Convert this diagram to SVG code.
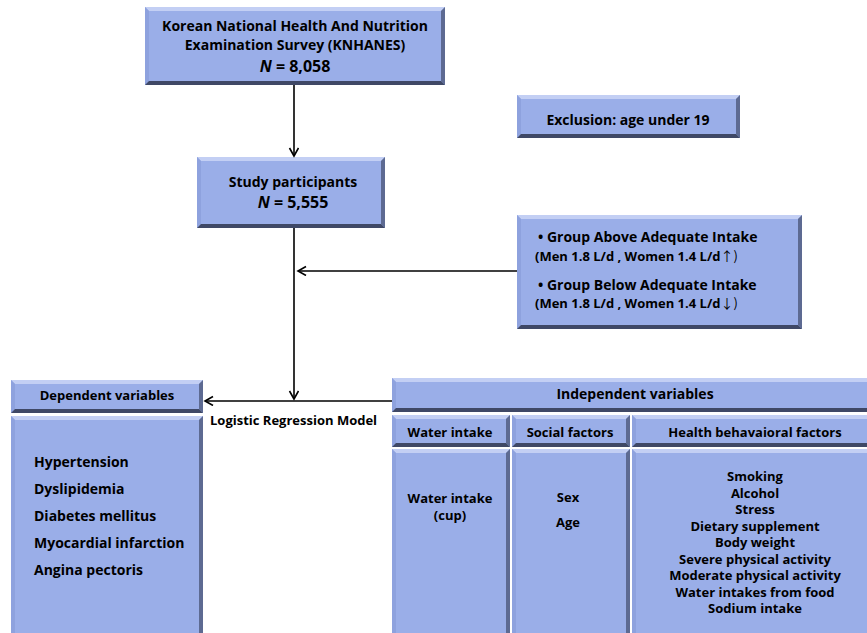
<svg xmlns="http://www.w3.org/2000/svg" width="867" height="633" viewBox="0 0 867 633">
<defs>
<marker id="arr" markerWidth="12" markerHeight="12" refX="9" refY="5" orient="auto" markerUnits="userSpaceOnUse">
<path d="M1,0.5 L9,5 L1,9.5" fill="none" stroke="#000" stroke-width="1.6"/>
</marker>
</defs>
<style>
.m{fill:#9aaee8}
.t{fill:#c3cff4}
.l{fill:#8ea2de}
.r{fill:#5d6a92}
.b{fill:#3f4866}
text{font-family:"Open Sans","Noto Sans","Liberation Sans",sans-serif;font-weight:bold;font-size:14px;fill:#000}
.c{text-anchor:middle}
.n{font-style:italic}
.k{font-family:"Noto Sans CJK KR","Noto Sans CJK SC",sans-serif;font-weight:normal}
.ln{stroke:#000;stroke-width:1.6;fill:none}
</style>
<rect width="867" height="633" fill="#fff"/>

<g id="knhanes">
<rect class="m" x="145" y="7" width="300" height="78"/>
<polygon class="t" points="145,7 445,7 441,11 149,11"/>
<polygon class="l" points="145,7 149,11 149,81 145,85"/>
<polygon class="r" points="445,7 445,85 441,81 441,11"/>
<polygon class="b" points="145,85 445,85 441,81 149,81"/>
<text class="c" x="295" y="31">Korean National Health And Nutrition</text>
<text class="c" x="295" y="50">Examination Survey (KNHANES)</text>
<text class="c" x="295" y="72" style="font-size:16px"><tspan class="n">N</tspan> =  8,058</text>
</g>

<g id="participants">
<rect class="m" x="197" y="157" width="188" height="71"/>
<polygon class="t" points="197,157 385,157 381,161 201,161"/>
<polygon class="l" points="197,157 201,161 201,224 197,228"/>
<polygon class="r" points="385,157 385,228 381,224 381,161"/>
<polygon class="b" points="197,228 385,228 381,224 201,224"/>
<text class="c" x="293" y="187">Study participants</text>
<text class="c" x="293" y="208" style="font-size:16px"><tspan class="n">N</tspan> =  5,555</text>
</g>

<g id="exclusion">
<rect class="m" x="517" y="95" width="223" height="43"/>
<polygon class="t" points="517,95 740,95 736,99 521,99"/>
<polygon class="l" points="517,95 521,99 521,134 517,138"/>
<polygon class="r" points="740,95 740,138 736,134 736,99"/>
<polygon class="b" points="517,138 740,138 736,134 521,134"/>
<text class="c" x="628" y="125">Exclusion: age under 19</text>
</g>

<g id="groups">
<rect class="m" x="517" y="215" width="285" height="114"/>
<polygon class="t" points="517,215 802,215 798,219 521,219"/>
<polygon class="l" points="517,215 521,219 521,325 517,329"/>
<polygon class="r" points="802,215 802,329 798,325 798,219"/>
<polygon class="b" points="517,329 802,329 798,325 521,325"/>
<text x="538" y="242">• Group  Above Adequate Intake</text>
<text x="535" y="261" style="font-size:13px">(Men 1.8 L/d , Women 1.4 L/d<tspan class="k">↑)</tspan></text>
<text x="538" y="290">• Group  Below Adequate Intake</text>
<text x="535" y="308" style="font-size:13px">(Men 1.8 L/d , Women 1.4 L/d<tspan class="k">↓)</tspan></text>
</g>

<g id="dependent-header">
<rect class="m" x="11" y="380" width="192" height="33"/>
<polygon class="t" points="11,380 203,380 199,384 15,384"/>
<polygon class="l" points="11,380 15,384 15,409 11,413"/>
<polygon class="r" points="203,380 203,413 199,409 199,384"/>
<polygon class="b" points="11,413 203,413 199,409 15,409"/>
<text class="c" x="107" y="400" style="font-size:13px">Dependent variables</text>
</g>

<g id="dependent-body">
<rect class="m" x="11" y="416" width="192" height="225"/>
<polygon class="t" points="11,416 203,416 199,420 15,420"/>
<polygon class="l" points="11,416 15,420 15,641 11,641"/>
<polygon class="r" points="203,416 203,641 199,641 199,420"/>
<text x="34" y="467">Hypertension</text>
<text x="34" y="494">Dyslipidemia</text>
<text x="34" y="521">Diabetes mellitus</text>
<text x="34" y="548">Myocardial infarction</text>
<text x="34" y="575">Angina pectoris</text>
</g>

<g id="independent-header">
<rect class="m" x="392" y="378" width="480" height="34"/>
<polygon class="t" points="392,378 872,378 868,382 396,382"/>
<polygon class="l" points="392,378 396,382 396,408 392,412"/>
<polygon class="b" points="392,412 872,412 868,408 396,408"/>
<text class="c" x="635" y="399">Independent variables</text>
</g>

<g id="water-header">
<rect class="m" x="392" y="415" width="118" height="32"/>
<polygon class="t" points="392,415 510,415 506,419 396,419"/>
<polygon class="l" points="392,415 396,419 396,443 392,447"/>
<polygon class="r" points="510,415 510,447 506,443 506,419"/>
<polygon class="b" points="392,447 510,447 506,443 396,443"/>
<text class="c" x="450" y="437" style="font-size:13px">Water intake</text>
</g>

<g id="social-header">
<rect class="m" x="512" y="415" width="118" height="32"/>
<polygon class="t" points="512,415 630,415 626,419 516,419"/>
<polygon class="l" points="512,415 516,419 516,443 512,447"/>
<polygon class="r" points="630,415 630,447 626,443 626,419"/>
<polygon class="b" points="512,447 630,447 626,443 516,443"/>
<text class="c" x="570" y="437" style="font-size:13px">Social factors</text>
</g>

<g id="health-header">
<rect class="m" x="632" y="415" width="240" height="32"/>
<polygon class="t" points="632,415 872,415 868,419 636,419"/>
<polygon class="l" points="632,415 636,419 636,443 632,447"/>
<polygon class="b" points="632,447 872,447 868,443 636,443"/>
<text class="c" x="755" y="437" style="font-size:13px">Health behavaioral factors</text>
</g>

<g id="water-body">
<rect class="m" x="392" y="449" width="118" height="190"/>
<polygon class="t" points="392,449 510,449 506,453 396,453"/>
<polygon class="l" points="392,449 396,453 396,639 392,639"/>
<polygon class="r" points="510,449 510,639 506,639 506,453"/>
<text class="c" x="450" y="503" style="font-size:13px">Water intake<tspan x="450" dy="17">(cup)</tspan></text>
</g>

<g id="social-body">
<rect class="m" x="512" y="449" width="118" height="190"/>
<polygon class="t" points="512,449 630,449 626,453 516,453"/>
<polygon class="l" points="512,449 516,453 516,639 512,639"/>
<polygon class="r" points="630,449 630,639 626,639 626,453"/>
<text class="c" x="568" y="502" style="font-size:13px">Sex</text>
<text class="c" x="568" y="527" style="font-size:13px">Age</text>
</g>

<g id="health-body">
<rect class="m" x="632" y="449" width="240" height="190"/>
<polygon class="t" points="632,449 872,449 868,453 636,453"/>
<polygon class="l" points="632,449 636,453 636,639 632,639"/>
<text class="c" x="755" y="481" style="font-size:13px">Smoking<tspan x="755" dy="16.5">Alcohol</tspan><tspan x="755" dy="16.5">Stress</tspan><tspan x="755" dy="16.5">Dietary supplement</tspan><tspan x="755" dy="16.5">Body weight</tspan><tspan x="755" dy="16.5">Severe physical activity</tspan><tspan x="755" dy="16.5">Moderate physical activity</tspan><tspan x="755" dy="16.5">Water intakes from food</tspan><tspan x="755" dy="16.5">Sodium intake</tspan></text>
</g>

<text id="logistic-label" x="210" y="425" style="font-size:13px">Logistic Regression Model</text>

<g id="connectors">
<line class="ln" x1="294" y1="85" x2="294" y2="156" marker-end="url(#arr)"/>
<line class="ln" x1="294" y1="228" x2="294" y2="399" marker-end="url(#arr)"/>
<line class="ln" x1="517" y1="271" x2="298" y2="271" marker-end="url(#arr)"/>
<line class="ln" x1="392" y1="401" x2="205" y2="401" marker-end="url(#arr)"/>
</g>
</svg>
